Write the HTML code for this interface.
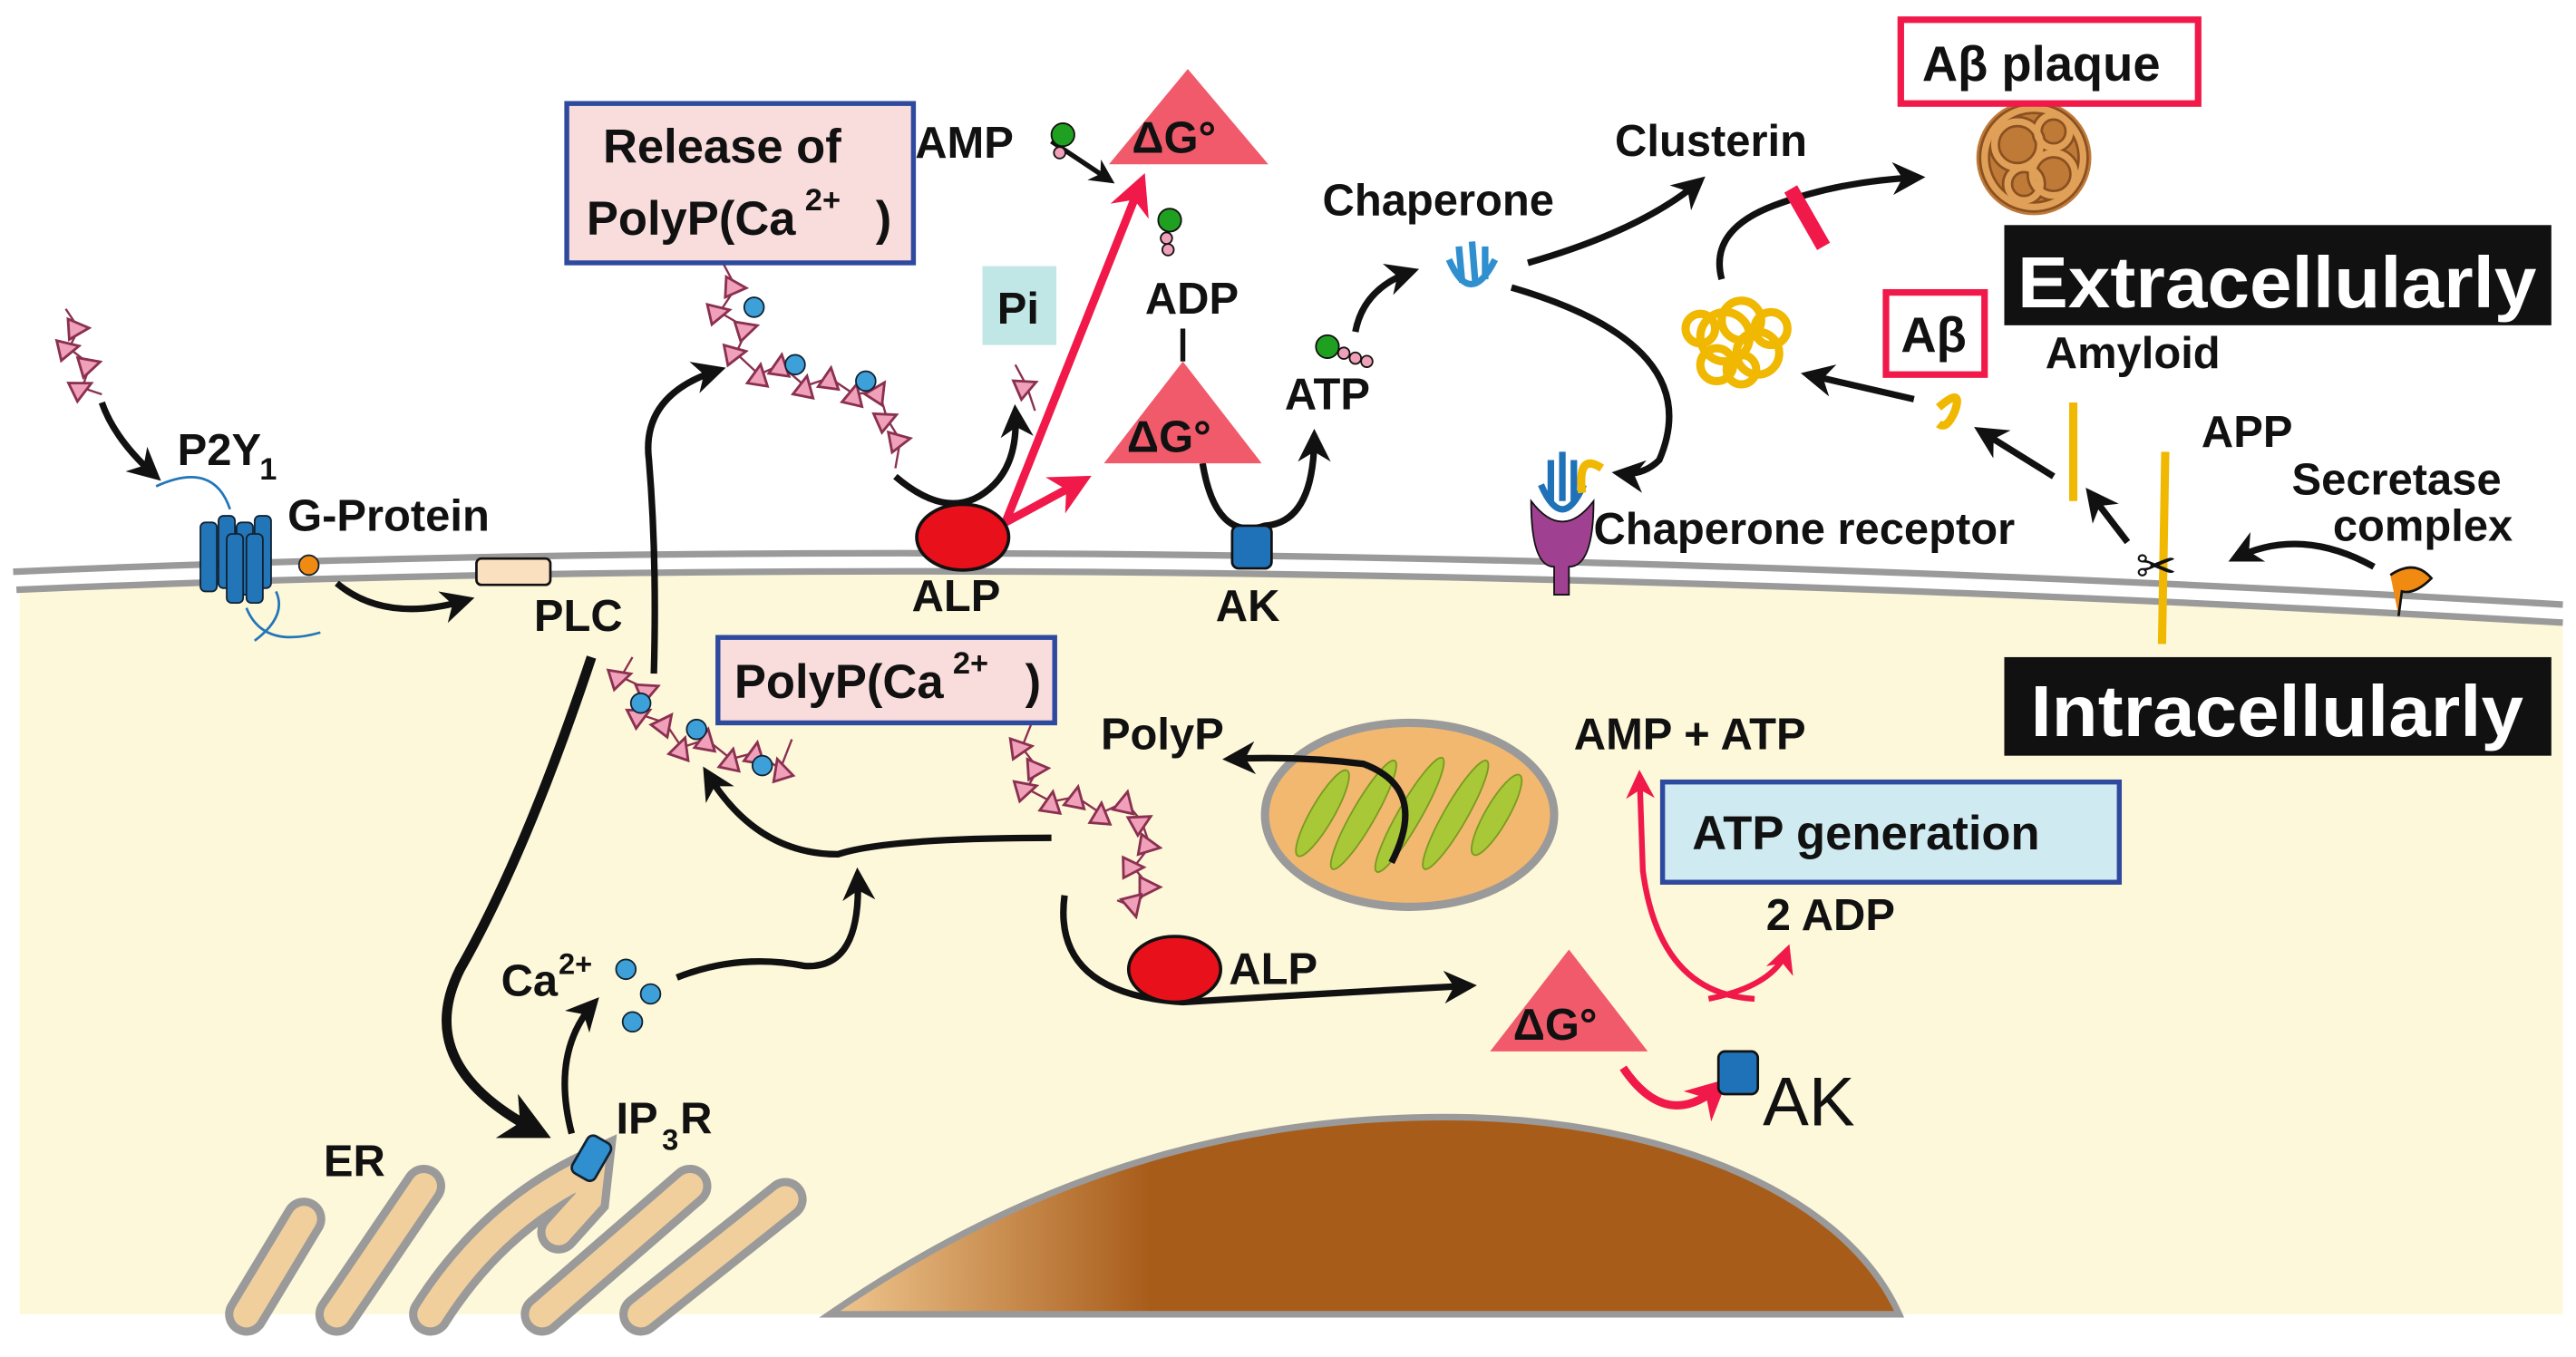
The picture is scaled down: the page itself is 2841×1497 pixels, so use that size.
<!DOCTYPE html>
<html><head><meta charset="utf-8"><style>
html,body{margin:0;padding:0;background:#fff;}
svg{display:block;}
text{font-family:"Liberation Sans",sans-serif;font-weight:bold;fill:#111;}
</style></head><body>
<svg width="2841" height="1497" viewBox="0 0 1568 826" preserveAspectRatio="none" xmlns="http://www.w3.org/2000/svg">
<defs>
<marker id="ah" viewBox="0 0 10 10" refX="8" refY="5" markerWidth="5" markerHeight="5" orient="auto"><path d="M0,0 L10,5 L0,10 L3,5z" fill="#111"/></marker>
<marker id="rh" viewBox="0 0 10 10" refX="8" refY="5" markerWidth="5" markerHeight="5" orient="auto"><path d="M0,0 L10,5 L0,10 L3,5z" fill="#f0194a"/></marker>
<marker id="tri" viewBox="0 0 10 10" refX="5" refY="5" markerWidth="12" markerHeight="12" orient="auto"><path d="M1,9 L5,1 L9,9z" fill="#f0a0b8" stroke="#8a3050" stroke-width="1"/></marker>
<linearGradient id="nuc" x1="0" x2="1" y1="0" y2="0"><stop offset="0" stop-color="#f0c890"/><stop offset="0.3" stop-color="#a85c1a"/><stop offset="1" stop-color="#a85c1a"/></linearGradient>
</defs>
<!-- cell -->
<path d="M12,359 Q700,329 1560,378 L1560,800 L12,800z" fill="#fdf8da"/>
<path d="M8,348 Q700,318 1560,368" fill="none" stroke="#9a9a9a" stroke-width="4"/>
<path d="M10,359 Q700,329 1560,379" fill="none" stroke="#9a9a9a" stroke-width="4"/>
<!-- nucleus -->
<path d="M505,800 C650,700 780,680 880,680 C1000,680 1120,720 1156,800z" fill="url(#nuc)" stroke="#9a9a9a" stroke-width="4"/>
<!-- ER -->
<g fill="none" stroke-linecap="round">
<g stroke="#9a9a9a" stroke-width="26">
<path d="M150,800 L185,742"/><path d="M205,800 L258,722"/><path d="M262,800 Q300,740 360,712 L358,730 L340,750"/><path d="M330,800 L420,722"/><path d="M390,800 L478,730"/>
</g>
<g stroke="#f0cf9c" stroke-width="16">
<path d="M150,800 L185,742"/><path d="M205,800 L258,722"/><path d="M262,800 Q300,740 360,712 L358,730 L340,750"/><path d="M330,800 L420,722"/><path d="M390,800 L478,730"/>
</g></g>
<!-- IP3R -->
<rect x="352" y="692" width="16" height="26" rx="4" fill="#2f8fcf" stroke="#123" stroke-width="1.5" transform="rotate(30 360 705)"/>
<!-- mitochondrion -->
<ellipse cx="858" cy="496" rx="88" ry="56" fill="#f2b870" stroke="#9a9a9a" stroke-width="5"/>
<g fill="#a8c838" stroke="#7a9a20" stroke-width="1">
<ellipse cx="805" cy="495" rx="7" ry="30" transform="rotate(30 805 495)"/>
<ellipse cx="830" cy="496" rx="7" ry="38" transform="rotate(30 830 496)"/>
<ellipse cx="858" cy="496" rx="7" ry="40" transform="rotate(30 858 496)"/>
<ellipse cx="886" cy="496" rx="7" ry="38" transform="rotate(30 886 496)"/>
<ellipse cx="911" cy="496" rx="7" ry="28" transform="rotate(30 911 496)"/>
</g>
<!-- receptor P2Y1 -->
<g fill="#2276b8" stroke="#123" stroke-width="1">
<rect x="122" y="318" width="10" height="42" rx="3"/><rect x="133" y="314" width="10" height="44" rx="3"/><rect x="144" y="318" width="10" height="44" rx="3"/><rect x="155" y="314" width="10" height="44" rx="3"/><rect x="138" y="325" width="10" height="42" rx="3"/><rect x="150" y="325" width="10" height="42" rx="3"/>
</g>
<path d="M95,296 Q130,280 140,310 M150,370 Q160,395 195,385 M168,360 Q175,375 155,390" fill="none" stroke="#2276b8" stroke-width="1.5"/>
<circle cx="188" cy="344" r="6" fill="#f08a10" stroke="#123"/>
<rect x="290" y="340" width="45" height="16" rx="3" fill="#fbe0c0" stroke="#111" stroke-width="1.5"/>
<!-- polyP chains -->
<g fill="none" stroke="#8a3050" stroke-width="1.3" marker-mid="url(#tri)">
<polyline points="40,188 48,200 42,212 55,222 50,236 62,240"/>
<polyline points="440,160 448,175 438,190 455,200 448,215 462,228 475,222 490,235 505,230 520,240 535,238 540,255 548,268 545,285"/>
<polyline points="385,400 378,412 395,420 390,435 405,440 415,455 430,450 445,462 460,458 475,468 482,450"/>
<polyline points="628,440 622,455 632,468 625,480 640,488 655,485 670,495 685,488 695,500 700,515 690,528 700,540 690,552 680,548"/>
<polyline points="618,222 625,235 630,250"/>
</g>
<g fill="#3ea0d8" stroke="#123" stroke-width="1">
<circle cx="459" cy="187" r="6"/><circle cx="484" cy="222" r="6"/><circle cx="527" cy="232" r="6"/>
<circle cx="390" cy="428" r="6"/><circle cx="424" cy="444" r="6"/><circle cx="464" cy="466" r="6"/>
<circle cx="381" cy="590" r="6"/><circle cx="396" cy="605" r="6"/><circle cx="385" cy="622" r="6"/>
</g>
<!-- black arrows -->
<g fill="none" stroke="#111" stroke-width="4" marker-end="url(#ah)">
<path d="M62,245 Q70,268 95,290"/>
<path d="M205,355 Q235,380 285,365"/>
<path d="M360,400 Q320,520 280,590 Q250,650 330,690" stroke-width="6"/>
<path d="M348,690 Q335,640 362,610"/>
<path d="M412,595 Q450,580 490,588 Q525,590 522,532"/>
<path d="M640,510 Q540,510 510,520 Q460,520 430,470"/>
<path d="M398,410 Q400,340 395,280 Q390,240 438,225"/>
<path d="M545,290 Q580,320 605,295 Q620,280 618,250"/>
<path d="M648,545 Q640,605 720,610 Q800,605 895,600"/>
<path d="M847,525 Q870,480 830,465 Q790,460 748,462"/>
<path d="M640,86 L676,110" stroke-width="3"/>
<path d="M732,282 Q740,330 770,320 Q800,318 800,265"/>
<path d="M825,202 Q830,175 860,165"/>
<path d="M930,160 Q1000,140 1035,110"/>
<path d="M920,175 Q1040,210 1010,280 Q1000,290 985,288"/>
<path d="M1048,170 Q1040,140 1080,125 Q1120,110 1168,108"/>
<path d="M1165,243 L1100,228"/>
<path d="M1250,290 L1205,262"/>
<path d="M1295,330 L1272,300"/>
<path d="M1445,345 Q1400,320 1360,340"/>
</g>
<path d="M720,200 L720,220" stroke="#111" stroke-width="3"/>
<!-- red arrows -->
<g fill="none" stroke="#f0194a" stroke-width="5" marker-end="url(#rh)">
<path d="M612,318 L695,110"/>
<path d="M612,318 L660,292"/>
<path d="M1068,608 Q1010,605 1000,530 L998,472" stroke-width="3.5"/>
<path d="M1040,608 Q1080,600 1088,578" stroke-width="3.5"/>
<path d="M988,650 Q1015,690 1048,660"/>
</g>
<path d="M1090,115 L1110,150" stroke="#f0194a" stroke-width="9"/>
<!-- proteins -->
<ellipse cx="586" cy="327" rx="28" ry="20" fill="#e8101a" stroke="#111" stroke-width="2"/>
<ellipse cx="715" cy="590" rx="28" ry="20" fill="#e8101a" stroke="#111" stroke-width="2"/>
<rect x="750" y="320" width="24" height="26" rx="4" fill="#1f72b8" stroke="#111" stroke-width="1.5"/>
<rect x="1046" y="640" width="24" height="26" rx="4" fill="#1f72b8" stroke="#111" stroke-width="1.5"/>
<path d="M932,305 Q932,345 946,345 L946,362 L955,362 L955,345 Q970,345 970,305 Q951,330 932,305z" fill="#a04090" stroke="#111"/>
<path d="M938,295 Q951,325 964,295 M944,280 L944,305 M951,275 L951,305 M958,280 L958,305" fill="none" stroke="#1f72b8" stroke-width="4"/>
<path d="M963,300 Q960,275 975,285" fill="none" stroke="#f0b800" stroke-width="5"/>
<path d="M882,158 Q895,188 910,158 M888,150 L890,172 M896,147 L898,172 M904,150 L904,170" fill="none" stroke="#2f8fcf" stroke-width="4"/>
<path d="M1455,350 Q1470,340 1480,352 Q1470,362 1462,360 L1460,375" fill="#f08a10" stroke="#111" stroke-width="1.5"/>
<line x1="1262" y1="245" x2="1262" y2="305" stroke="#f0b800" stroke-width="5"/>
<line x1="1318" y1="275" x2="1316" y2="392" stroke="#f0b800" stroke-width="5"/>
<path d="M1180,248 Q1195,235 1190,250 Q1185,262 1180,258" fill="none" stroke="#f0b800" stroke-width="5"/>
<text x="1300" y="355" font-size="30" style="font-weight:normal">✂</text>
<!-- amyloid clumps -->
<g fill="none" stroke="#f0b800" stroke-width="5">
<circle cx="1050" cy="205" r="15"/><circle cx="1070" cy="215" r="13"/><circle cx="1060" cy="195" r="12"/><circle cx="1045" cy="222" r="10"/><circle cx="1078" cy="200" r="10"/><circle cx="1035" cy="200" r="9"/><circle cx="1060" cy="225" r="9"/>
</g>
<circle cx="1238" cy="96" r="35" fill="#c07a38"/>
<g fill="none" stroke="#8a5020" stroke-width="7"><circle cx="1238" cy="96" r="30"/><circle cx="1228" cy="88" r="14"/><circle cx="1250" cy="106" r="13"/><circle cx="1232" cy="112" r="10"/><circle cx="1250" cy="80" r="10"/></g>
<g fill="none" stroke="#e0a058" stroke-width="4"><circle cx="1238" cy="96" r="30"/><circle cx="1228" cy="88" r="14"/><circle cx="1250" cy="106" r="13"/><circle cx="1232" cy="112" r="10"/><circle cx="1250" cy="80" r="10"/></g>
<!-- nucleotides -->
<circle cx="647" cy="82" r="7" fill="#20a020" stroke="#111"/><circle cx="645" cy="93" r="3.5" fill="#f0a0b8" stroke="#111"/>
<circle cx="712" cy="134" r="7" fill="#20a020" stroke="#111"/><circle cx="710" cy="145" r="3.5" fill="#f0a0b8" stroke="#111"/><circle cx="711" cy="152" r="3.5" fill="#f0a0b8" stroke="#111"/>
<circle cx="808" cy="211" r="7" fill="#20a020" stroke="#111"/><circle cx="818" cy="215" r="3.5" fill="#f0a0b8" stroke="#111"/><circle cx="825" cy="218" r="3.5" fill="#f0a0b8" stroke="#111"/><circle cx="832" cy="220" r="3.5" fill="#f0a0b8" stroke="#111"/>
<!-- triangles -->
<g fill="#f05a6a">
<path d="M723,42 L772,100 L675,100z"/><path d="M720,220 L768,282 L672,282z"/><path d="M955,578 L1003,640 L907,640z"/>
</g>
<g style="fill:#fff" font-size="27"><text x="689" y="93">ΔG°</text><text x="686" y="275">ΔG°</text><text x="921" y="633">ΔG°</text></g>
<!-- boxes -->
<rect x="345" y="63" width="211" height="97" fill="#f9dcdc" stroke="#2e4a9e" stroke-width="3"/>
<text x="367" y="99" font-size="29">Release of</text>
<text x="357" y="143" font-size="29">PolyP(Ca</text><text x="490" y="128" font-size="19">2+</text><text x="533" y="143" font-size="29">)</text>
<rect x="437" y="388" width="205" height="52" fill="#f9dcdc" stroke="#2e4a9e" stroke-width="3"/>
<text x="447" y="425" font-size="29">PolyP(Ca</text><text x="580" y="410" font-size="19">2+</text><text x="624" y="425" font-size="29">)</text>
<rect x="598" y="162" width="45" height="48" fill="#c0e6e6"/><text x="607" y="197" font-size="27">Pi</text>
<rect x="1012" y="476" width="278" height="61" fill="#cfeaf0" stroke="#2e4a9e" stroke-width="3"/>
<text x="1030" y="517" font-size="29">ATP generation</text>
<rect x="1157" y="12" width="181" height="51" fill="#fff" stroke="#f0194a" stroke-width="4"/>
<text x="1170" y="49" font-size="30">Aβ plaque</text>
<rect x="1148" y="178" width="60" height="50" fill="#fff" stroke="#f0194a" stroke-width="4"/>
<text x="1157" y="214" font-size="30">Aβ</text>
<rect x="1220" y="137" width="333" height="61" fill="#111"/>
<text x="1228" y="187" font-size="44" textLength="316" lengthAdjust="spacingAndGlyphs" style="fill:#fff">Extracellularly</text>
<rect x="1220" y="400" width="333" height="60" fill="#111"/>
<text x="1236" y="448" font-size="44" textLength="300" lengthAdjust="spacingAndGlyphs" style="fill:#fff">Intracellularly</text>
<!-- labels -->
<g font-size="27">
<text x="108" y="283">P2Y</text><text x="158" y="292" font-size="19">1</text>
<text x="175" y="323">G-Protein</text>
<text x="325" y="384">PLC</text>
<text x="555" y="372">ALP</text>
<text x="740" y="378">AK</text>
<text x="970" y="331">Chaperone receptor</text>
<text x="1395" y="301">Secretase</text>
<text x="1420" y="329">complex</text>
<text x="1340" y="272">APP</text>
<text x="1245" y="224">Amyloid</text>
<text x="983" y="95">Clusterin</text>
<text x="805" y="131">Chaperone</text>
<text x="557" y="96">AMP</text>
<text x="697" y="191">ADP</text>
<text x="782" y="249">ATP</text>
<text x="670" y="456">PolyP</text>
<text x="958" y="456">AMP + ATP</text>
<text x="1075" y="566">2 ADP</text>
<text x="748" y="599">ALP</text>
<text x="305" y="606">Ca</text><text x="340" y="593" font-size="18">2+</text>
<text x="375" y="690">IP</text><text x="403" y="700" font-size="18">3</text><text x="414" y="690">R</text>
<text x="197" y="716">ER</text>
</g>
<text x="1073" y="685" font-size="42" style="font-weight:normal">AK</text>
</svg>
</body></html>
